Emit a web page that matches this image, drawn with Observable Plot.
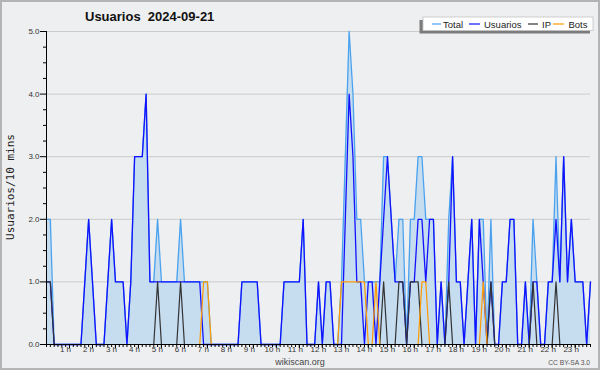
<!DOCTYPE html>
<html><head><meta charset="utf-8">
<script src="https://cdn.jsdelivr.net/npm/d3@7"></script>
<script src="https://cdn.jsdelivr.net/npm/@observablehq/plot@0.6"></script>
<style>
body{margin:0;background:#fff}
#wrap{position:relative;width:600px;height:370px;background:#eeeff0;overflow:hidden}
#wrap svg{position:absolute;left:0;top:0}
#border{position:absolute;left:0;top:0;width:600px;height:370px;box-sizing:border-box;border:2px solid #b4b4b4;pointer-events:none}
</style></head><body><div id="wrap"></div>
<script>
const titleText = "Usuarios  2024-09-21";
const yLabel = "Usuarios/10 mins";
const seriesNames = ["Total", "Usuarios", "IP", "Bots"];
const seriesColors = ["#4aa2ef", "#1212ff", "#333333", "#ff9a00"];
const total = [
 2,2,0,0,0,0,0,0,0,0, 1,2,1,0,0,0,1,2,1,1, 1,0,1,3,3,3,4,1,1,2, 1,1,1,1,1,2,1,1,1,1,
 1,1,1,0,0,0,0,0,0,0, 0,1,1,1,1,1,0,0,0,0, 0,0,1,1,1,1,1,2,0,0, 0,1,0,1,1,0,0,1,3,5,
 4,2,2,1,1,1,1,1,3,3, 2,1,2,2,0,2,2,3,3,2, 2,2,0,1,0,2,3,1,1,0, 1,2,0,2,2,0,2,0,0,1,
 1,2,2,0,0,1,0,2,1,0, 0,1,1,3,1,3,1,2,1,1, 1,0,1];
const usuarios = [
 1,1,0,0,0,0,0,0,0,0, 1,2,1,0,0,0,1,2,1,1, 1,0,1,3,3,3,4,1,1,1, 1,1,1,1,1,1,1,1,1,1,
 1,0,0,0,0,0,0,0,0,0, 0,1,1,1,1,1,0,0,0,0, 0,0,1,1,1,1,1,2,0,0, 0,1,0,1,1,0,0,0,2,4,
 3,1,1,0,1,1,0,1,2,3, 2,1,1,1,0,1,1,2,2,1, 2,2,0,1,0,1,3,1,1,0, 1,2,0,2,1,0,1,0,0,1,
 1,2,2,0,0,1,0,1,1,0, 0,1,1,2,1,3,1,2,1,1, 1,0,1];
const ip = [
 1,1,0,0,0,0,0,0,0,0, 0,0,0,0,0,0,0,0,0,0, 0,0,0,0,0,0,0,0,0,1, 0,0,0,0,0,1,0,0,0,0,
 0,0,0,0,0,0,0,0,0,0, 0,0,0,0,0,0,0,0,0,0, 0,0,0,0,0,0,0,0,0,0, 0,0,0,0,0,0,0,0,0,0,
 0,0,0,0,0,0,0,0,1,0, 0,0,1,1,0,1,1,1,0,0, 0,0,0,0,0,1,0,0,0,0, 0,0,0,0,0,0,1,0,0,0,
 0,0,0,0,0,0,0,1,0,0, 0,0,0,1,0,0,0,0,0,0, 0,0,0];
const bots = [
 0,0,0,0,0,0,0,0,0,0, 0,0,0,0,0,0,0,0,0,0, 0,0,0,0,0,0,0,0,0,0, 0,0,0,0,0,0,0,0,0,0,
 0,1,1,0,0,0,0,0,0,0, 0,0,0,0,0,0,0,0,0,0, 0,0,0,0,0,0,0,0,0,0, 0,0,0,0,0,0,0,1,1,1,
 1,1,1,1,0,0,1,0,0,0, 0,0,0,0,0,0,0,0,1,1, 0,0,0,0,0,0,0,0,0,0, 0,0,0,0,1,0,0,0,0,0,
 0,0,0,0,0,0,0,0,0,0, 0,0,0,0,0,0,0,0,0,0, 0,0,0];
const hourIdx = [6,12,18,24,30,36,42,48,54,60,66,72,78,84,90,96,102,108,114,120,126,132,138];
const hourLabels = ["1 h","2 h","3 h","4 h","5 h","6 h","7 h","8 h","9 h","10 h","11 h","12 h",
 "13 h","14 h","15 h","16 h","17 h","18 h","19 h","20 h","21 h","22 h","23 h"];
const yTicks = [0,1,2,3,4,5];
const yMinor = [0.25,0.5,0.75,1.25,1.5,1.75,2.25,2.5,2.75,3.25,3.5,3.75,4.25,4.5,4.75];

const rows = total.map((t, i) => ({i, total: t, usuarios: usuarios[i], ip: ip[i], bots: bots[i]}));
const idx = rows.map(d => d.i);
const font = "'Liberation Sans', Arial, sans-serif";

const chart = Plot.plot({
  width: 600, height: 370,
  marginLeft: 46, marginRight: 10, marginTop: 31, marginBottom: 26,
  x: {domain: [0, 142]},
  y: {domain: [0, 5]},
  style: {background: "transparent", fontFamily: font, color: "#000", overflow: "visible"},
  marks: [
    Plot.ruleY(yTicks.filter(v => v > 0), {stroke: "#cbcbcb", strokeWidth: 1}),
    Plot.areaY(rows, {x: "i", y: "total", fill: "#c6ddf0"}),
    Plot.lineY(rows, {x: "i", y: "total", stroke: seriesColors[0], strokeWidth: 1.3}),
    Plot.lineY(rows, {x: "i", y: "usuarios", stroke: seriesColors[1], strokeWidth: 1.3}),
    Plot.lineY(rows, {x: "i", y: "ip", stroke: seriesColors[2], strokeWidth: 1.2}),
    Plot.lineY(rows, {x: "i", y: "bots", stroke: seriesColors[3], strokeWidth: 1.2}),
    Plot.axisY(yTicks, {tickSize: 6, tickPadding: 1, tickFormat: d3.format(".1f"), fontSize: 8, label: null, fill: "#333"}),
    Plot.axisY(yMinor, {tickSize: 3, tickFormat: () => "", label: null}),
    Plot.axisX(idx, {tickSize: 3, tickFormat: () => "", label: null}),
    Plot.axisX(hourIdx, {tickSize: 4, tickFormat: () => "", label: null}),
    Plot.text(hourIdx, {x: d => d, text: (d, k) => hourLabels[k], frameAnchor: "bottom", dy: 7, dx: -4, fontSize: 8, fill: "#333"}),
    Plot.ruleX([0], {stroke: "#000"}),
    Plot.ruleY([0], {stroke: "#000"})
  ]
});
const wrap = document.getElementById("wrap");
wrap.appendChild(chart);

// overlay: title, legend, labels
const ns = "http://www.w3.org/2000/svg";
const ov = document.createElementNS(ns, "svg");
ov.setAttribute("width", 600); ov.setAttribute("height", 370);
ov.style.fontFamily = font;
function el(tag, attrs, text) {
  const e = document.createElementNS(ns, tag);
  for (const k in attrs) e.setAttribute(k, attrs[k]);
  if (text != null) e.textContent = text;
  ov.appendChild(e);
  return e;
}
el("text", {x: 85, y: 21, "font-size": 13, "font-weight": "bold", fill: "#111", "xml:space": "preserve", style: "white-space:pre"}, titleText);
el("text", {x: 13.5, y: 187, "font-size": 11, fill: "#222", "text-anchor": "middle", transform: "rotate(-90 13.5 187)", style: "font-family:'DejaVu Sans Mono',monospace"}, yLabel);
// legend
el("rect", {x: 419.5, y: 20, width: 170.5, height: 13.5, fill: "#7c7c7c"});
el("rect", {x: 423, y: 17, width: 170, height: 13.5, fill: "#fff", stroke: "#c4c4c4", "stroke-width": 0.8});
const legTextX = [443, 484, 542, 568.5];
const legSw = [[432, 441], [469, 480], [528, 538], [553, 564]];
seriesNames.forEach((n, k) => {
  el("line", {x1: legSw[k][0], x2: legSw[k][1], y1: 24, y2: 24, stroke: seriesColors[k], "stroke-width": 1.2});
  el("text", {x: legTextX[k], y: 28, "font-size": 9.5, fill: "#222"}, n);
});
el("text", {x: 300, y: 365, "font-size": 9, fill: "#444", "text-anchor": "middle"}, "wikiscan.org");
el("text", {x: 590, y: 365, "font-size": 6.7, fill: "#555", "text-anchor": "end"}, "CC BY-SA 3.0");
wrap.appendChild(ov);
const b = document.createElement("div"); b.id = "border"; wrap.appendChild(b);
</script></body></html>
